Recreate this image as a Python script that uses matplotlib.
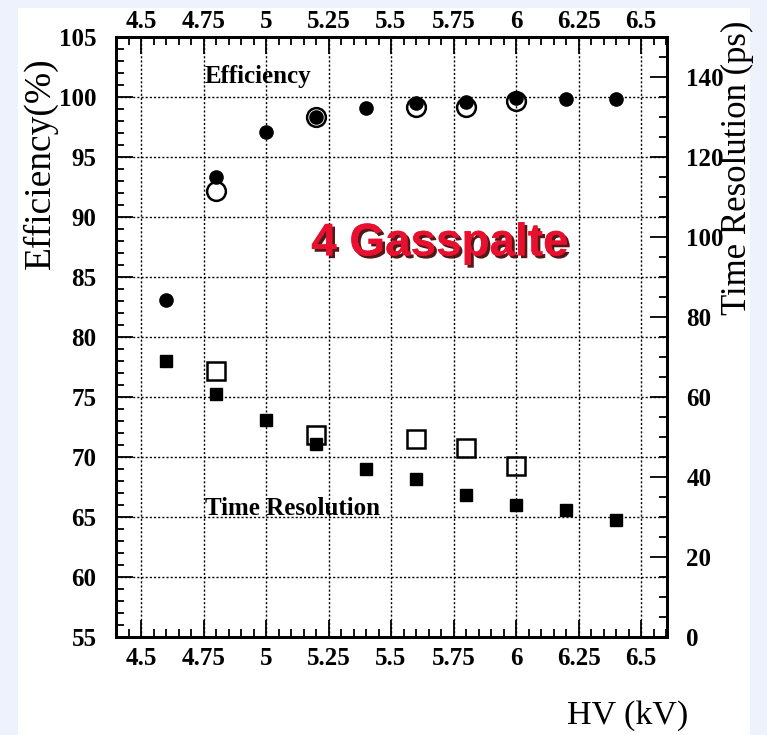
import numpy as np
import matplotlib
matplotlib.use("Agg")
import matplotlib.pyplot as plt
from matplotlib.patches import Rectangle
from matplotlib.ticker import MultipleLocator
import matplotlib.patheffects as pe

# high voltage settings (kV)
hv_full = [4.6, 4.8, 5.0, 5.2, 5.4, 5.6, 5.8, 6.0, 6.2, 6.4]
hv_open = [4.8, 5.2, 5.6, 5.8, 6.0]

# efficiency (%), filled and open markers
eff_full = [83.1, 93.3, 97.1, 98.3, 99.1, 99.5, 99.6, 99.9, 99.8, 99.8]
eff_open = [92.2, 98.3, 99.2, 99.2, 99.7]

# time resolution (ps), filled and open markers
tres_full = [69.0, 60.8, 54.2, 48.2, 42.0, 39.5, 35.5, 33.0, 31.8, 29.2]
tres_open = [66.5, 50.5, 49.5, 47.2, 42.7]

x_ticks = [4.5, 4.75, 5.0, 5.25, 5.5, 5.75, 6.0, 6.25, 6.5]
x_labels = ["4.5", "4.75", "5", "5.25", "5.5", "5.75", "6", "6.25", "6.5"]

serif = "Liberation Serif"

fig = plt.figure(figsize=(7.67, 7.35), dpi=100)
fig.patch.set_facecolor("#eef2fc")
fig.patches.append(Rectangle((18 / 767, 0), (750 - 18) / 767, 1 - 8 / 735,
                             transform=fig.transFigure, facecolor="white",
                             edgecolor="none", zorder=-10))

ax = fig.add_axes([116 / 767, 1 - 637 / 735, 551 / 767, 600 / 735])
ax.set_xlim(4.4, 6.604)
ax.set_ylim(55, 105)

ax.xaxis.set_major_locator(MultipleLocator(0.25))
ax.xaxis.set_minor_locator(MultipleLocator(0.05))
ax.yaxis.set_major_locator(MultipleLocator(5))
ax.yaxis.set_minor_locator(MultipleLocator(1))
ax.set_xticks(x_ticks)
ax.set_xticklabels(x_labels)

ax.grid(True, which="major", color="black", linestyle=(0, (1.5, 1.5)), linewidth=1.0)
ax.tick_params(which="both", direction="in", top=True, width=1.3, labelsize=18)
ax.tick_params(axis="x", pad=7)
ax.tick_params(axis="y", pad=14, right=False)
ax.tick_params(which="major", length=12)
ax.tick_params(which="minor", length=6)
for lab in ax.get_xticklabels() + ax.get_yticklabels():
    lab.set_fontfamily(serif)
    lab.set_fontweight("bold")
for sp in ax.spines.values():
    sp.set_linewidth(2)

# labels repeated along the top edge
top = ax.secondary_xaxis("top")
top.set_xticks(x_ticks)
top.set_xticklabels(x_labels)
top.tick_params(length=0, pad=3, labelsize=18)
top.spines["top"].set_visible(False)
for lab in top.get_xticklabels():
    lab.set_fontfamily(serif)
    lab.set_fontweight("bold")

ax.plot(hv_full, eff_full, "o", color="black", markersize=9.5, zorder=4)
ax.plot(hv_open, eff_open, "o", markerfacecolor="none", markeredgecolor="black",
        markeredgewidth=1.8, markersize=13.5, zorder=4)

ax2 = ax.twinx()
ax2.set_ylim(0, 150)
ax2.yaxis.set_major_locator(MultipleLocator(20))
ax2.yaxis.set_minor_locator(MultipleLocator(5))
ax2.tick_params(which="both", direction="in", width=1.3, labelsize=18, pad=14)
ax2.tick_params(which="major", length=12)
ax2.tick_params(which="minor", length=6)
for lab in ax2.get_yticklabels():
    lab.set_fontfamily(serif)
    lab.set_fontweight("bold")
for sp in ax2.spines.values():
    sp.set_linewidth(2)

ax2.plot(hv_full, tres_full, "s", color="black", markersize=9, zorder=4)
ax2.plot(hv_open, tres_open, "s", markerfacecolor="none", markeredgecolor="black",
         markeredgewidth=1.8, markersize=13, zorder=4)

ax.text(4.756, 101.7, "Efficiency", fontsize=18, fontweight="bold", family=serif,
        ha="left", va="center")
ax.text(4.756, 65.7, "Time Resolution", fontsize=18, fontweight="bold", family=serif,
        ha="left", va="center")

ax.text(5.696, 87.8, "4 Gasspalte", fontsize=33, fontweight="bold", color="#e8102e",
        family="Liberation Sans", ha="center", va="center",
        path_effects=[pe.withSimplePatchShadow(offset=(2, -2), shadow_rgbFace="#400000",
                                               alpha=0.9), pe.Normal()])

fig.text(40 / 767, 1 - 163 / 735, "Efficiency(%)", rotation=90, fontsize=27,
         family=serif, ha="center", va="center")
fig.text(737 / 767, 1 - 168 / 735, "Time Resolution (ps)", rotation=90, fontsize=25,
         family=serif, ha="center", va="center")
fig.text(628 / 767, 1 - 716 / 735, "HV (kV)", fontsize=24.5, family=serif,
         ha="center", va="center")

fig.savefig("out.png", dpi=100, facecolor=fig.get_facecolor())
